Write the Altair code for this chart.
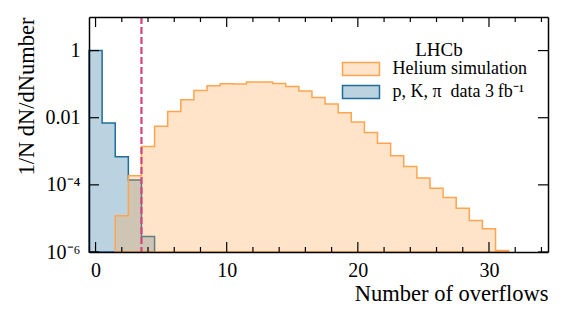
import altair as alt
import pandas as pd

# ---------------- data ----------------
data_label = "p, K, π\u2002data 3\u2009fb⁻¹"
sim_label = "Helium simulation"
series_order = [sim_label, data_label]

data_first_bin = 0
data_vals = [1.0, 6.9e-3, 6.9e-4, 1.4e-4, 2.9e-6]

sim_first_bin = 2
sim_vals = [1.2e-5, 1.86e-4, 1.38e-3, 5.6e-3, 0.0153, 0.0341, 0.0646, 0.0891,
            0.102, 0.101, 0.115, 0.115, 0.105, 0.085, 0.062, 0.040, 0.0254,
            0.0141, 7.4e-3, 3.6e-3, 1.74e-3, 7.4e-4, 3.5e-4, 1.6e-4, 7.9e-5,
            4.2e-5, 2.0e-5, 8.7e-6, 4.9e-6, 1.1e-6]

cut_value = [3.5]

x_major = [0, 10, 20, 30]
x_minor = [2, 4, 6, 8, 12, 14, 16, 18, 22, 24, 26, 28, 32, 34]
y_major = [1.0, 0.01, 1e-4, 1e-6]

X_DOMAIN = [-0.5, 34.5]
Y_DOMAIN = [1e-6, 10]

# ---------------- style ----------------
W, H = 459, 235
FONT = "Liberation Serif"
ORANGE = "#ffa54f"
BLUE = "#1f6e99"
ORANGE_FILL = "rgba(255,165,79,0.3)"
BLUE_FILL = "rgba(31,110,153,0.3)"
PINK = "#d4437c"


def step_points(first_bin, vals, name):
    # left bin edges with the bin value, plus the final right edge
    xs = [first_bin + k - 0.5 for k in range(len(vals))] + [first_bin + len(vals) - 0.5]
    ys = list(vals) + [vals[-1]]
    return pd.DataFrame({"x": xs, "y": ys, "series": name})


df_data = step_points(data_first_bin, data_vals, data_label)
df_sim = step_points(sim_first_bin, sim_vals, sim_label)

xscale = alt.Scale(domain=X_DOMAIN, nice=False, zero=False)
yscale = alt.Scale(type="log", domain=Y_DOMAIN, nice=False)
fill_scale = alt.Scale(domain=series_order, range=[ORANGE_FILL, BLUE_FILL])
stroke_scale = alt.Scale(domain=series_order, range=[ORANGE, BLUE])

y_label_expr = ("datum.value > 0.5 ? '1' : datum.value > 0.005 ? '0.01' : "
                "datum.value > 5e-5 ? '10⁻⁴' : '10⁻⁶'")

x_axis_bottom = alt.Axis(values=x_major, ticks=False, domain=True, domainColor="black",
                         domainWidth=1.5, labelFont=FONT, labelFontSize=20,
                         labelColor="black", labelPadding=8, labelFlush=False,
                         title="Number of overflows", titleAnchor="end",
                         titleFont=FONT, titleFontSize=22.5, titleFontWeight="normal",
                         titleColor="black", titlePadding=2, grid=False, zindex=1)
y_axis_left = alt.Axis(values=y_major, labelExpr=y_label_expr, ticks=False, domain=True,
                       domainColor="black", domainWidth=1.5, labelFont=FONT,
                       labelFontSize=20, labelColor="black", labelPadding=9,
                       labelOverlap=False, labelFlush=False,
                       title="1/N dN/dNumber", titleAnchor="end", titleFont=FONT,
                       titleFontSize=22.5, titleFontWeight="normal", titleColor="black",
                       titlePadding=7, grid=False, zindex=1)
x_axis_top = alt.Axis(orient="top", labels=False, ticks=False, domain=True,
                      domainColor="black", domainWidth=1.5, title=None, grid=False, zindex=1)
y_axis_right = alt.Axis(orient="right", labels=False, ticks=False, domain=True,
                        domainColor="black", domainWidth=1.5, title=None, grid=False, zindex=1)

legend = alt.Legend(
    title="LHCb", orient="none", legendX=262, legendY=24, padding=0,
    titleFont=FONT, titleFontSize=19, titleFontWeight="normal", titleColor="black",
    titleAnchor="middle", titleAlign="center", titlePadding=-1,
    labelFont=FONT, labelFontSize=18, labelColor="black", labelOffset=21.5, labelLimit=400,
    symbolType="M-2,-0.7L2,-0.7L2,0.7L-2,0.7Z", symbolSize=342,
    symbolStrokeWidth=1.5, rowPadding=3,
)


def hist_area(df, xaxis, yaxis):
    return alt.Chart(df).mark_area(interpolate="step-after", strokeWidth=1.5,
                                   strokeJoin="miter").encode(
        x=alt.X("x:Q", scale=xscale, axis=xaxis),
        y=alt.Y("y:Q", scale=yscale, axis=yaxis, stack=None),
        y2=alt.datum(Y_DOMAIN[0]),
        fill=alt.Fill("series:N", scale=fill_scale, legend=legend),
        stroke=alt.Stroke("series:N", scale=stroke_scale, legend=legend),
    )


blue_area = hist_area(df_data, x_axis_bottom, y_axis_left)
sim_area = hist_area(df_sim, x_axis_top, y_axis_right)

cut_line = alt.Chart(pd.DataFrame({"cut": cut_value})).mark_rule(
    color=PINK, strokeWidth=2.2, strokeDash=[7, 3]).encode(
    x=alt.X("cut:Q", scale=xscale, axis=None))

tick_layers = []
for vals, length in ((x_major, 10), (x_minor, 5)):
    df_t = pd.DataFrame({"t": vals})
    for y0, y1 in ((H, H - length), (0, length)):
        tick_layers.append(alt.Chart(df_t).mark_rule(color="black", strokeWidth=1.2).encode(
            x=alt.X("t:Q", scale=xscale, axis=None), y=alt.value(y0), y2=alt.value(y1)))
df_yt = pd.DataFrame({"t": y_major})
for x0, x1 in ((0, 10), (W, W - 10)):
    tick_layers.append(alt.Chart(df_yt).mark_rule(color="black", strokeWidth=1.2).encode(
        y=alt.Y("t:Q", scale=yscale, axis=None), x=alt.value(x0), x2=alt.value(x1)))

chart = alt.layer(blue_area, sim_area, cut_line, *tick_layers).resolve_axis(
    x="independent", y="independent"
).properties(
    width=W, height=H,
    autosize=alt.AutoSizeParams(type="none"),
    padding={"left": 81, "top": 9, "right": 9, "bottom": 62},
).configure_view(stroke=None).configure(font=FONT, background="white")

chart.save("out.html", embed_options={"renderer": "svg", "actions": False})
